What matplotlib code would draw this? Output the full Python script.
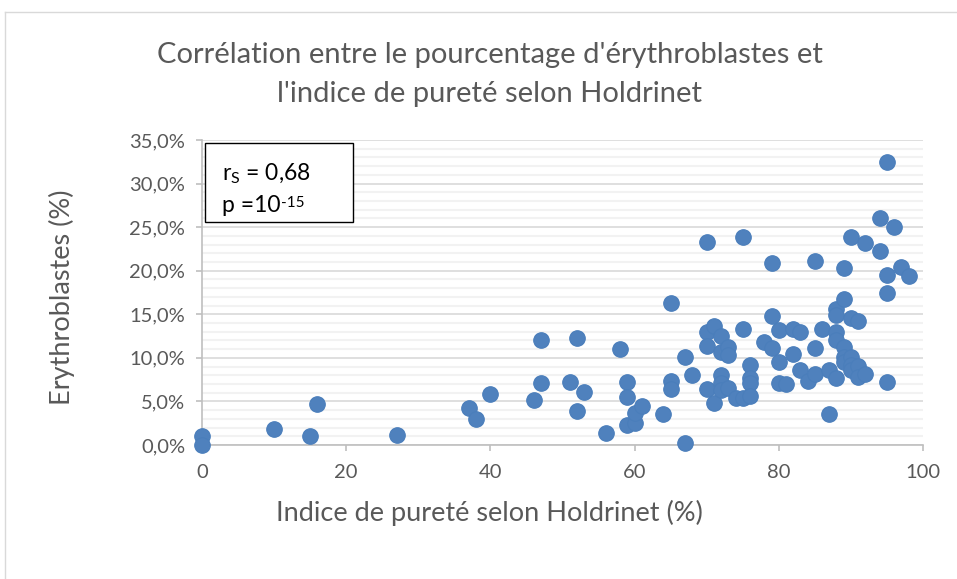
import matplotlib
matplotlib.use('Agg')
import matplotlib.pyplot as plt
from matplotlib.ticker import MultipleLocator, FuncFormatter
from matplotlib.patches import Rectangle
from matplotlib.lines import Line2D
from matplotlib.transforms import offset_copy

plt.rcParams['font.family'] = ['Lato', 'DejaVu Sans']
plt.rcParams['mathtext.fontset'] = 'custom'
plt.rcParams['mathtext.rm'] = 'Lato'

# Indice de pureté selon Holdrinet (%)
holdrinet = [0, 0, 10, 15, 16, 27, 37, 38, 40, 46, 47, 47, 51, 52, 52, 53, 56, 58,
             59, 59, 59, 60, 60, 61, 64, 65, 65, 65, 67, 67, 68, 70, 70, 70, 70, 71,
             71, 72, 72, 72, 72, 72, 73, 73, 73, 74, 75, 75, 75, 76, 76, 76, 76, 78,
             79, 79, 79, 80, 80, 80, 81, 82, 82, 83, 83, 84, 85, 85, 85, 86, 87, 87,
             88, 88, 88, 88, 88, 89, 89, 89, 89, 89, 90, 90, 90, 90, 90, 91, 91, 91,
             92, 92, 94, 94, 95, 95, 95, 95, 96, 97, 98]
# Erythroblastes (%)
erythro = [1.0, 0.0, 1.8, 1.0, 4.7, 1.1, 4.3, 3.0, 5.8, 5.2, 7.1, 12.0, 7.2, 12.3, 3.9,
           6.1, 1.4, 11.0, 7.2, 5.5, 2.3, 2.5, 3.7, 4.5, 3.6, 16.3, 7.3, 6.4, 10.1, 0.2,
           8.0, 23.3, 13.0, 11.4, 6.4, 13.7, 4.8, 12.5, 10.7, 8.0, 7.1, 6.3, 11.2, 10.3,
           6.5, 5.4, 23.9, 13.3, 5.4, 9.2, 7.7, 7.1, 5.6, 11.8, 20.9, 14.8, 11.1, 13.2,
           9.5, 7.1, 7.0, 13.3, 10.5, 13.0, 8.6, 7.3, 21.1, 11.1, 8.2, 13.3, 8.6, 3.6,
           15.6, 14.9, 13.0, 12.0, 7.7, 20.3, 16.8, 11.3, 10.1, 9.5, 23.9, 14.6, 10.1,
           9.2, 8.6, 14.2, 9.1, 7.8, 23.2, 8.2, 26.1, 22.3, 32.5, 19.5, 17.4, 7.2, 25.0,
           20.4, 19.4]

title_lines = ["Corrélation entre le pourcentage d'érythroblastes et",
               "l'indice de pureté selon Holdrinet"]
xlabel = 'Indice de pureté selon Holdrinet (%)'
ylabel = 'Erythroblastes (%)'

txt = '#595959'
fig = plt.figure(figsize=(9.57, 5.79), dpi=100)
ax = fig.add_axes([202 / 957, 1 - 445 / 579, 721 / 957, 305 / 579])

# chart area border
fig.add_artist(Line2D([5 / 957, 1], [1 - 12 / 579, 1 - 12 / 579], transform=fig.transFigure,
                      color='#D9D9D9', lw=1))
fig.add_artist(Line2D([5 / 957, 5 / 957], [0, 1 - 12 / 579], transform=fig.transFigure,
                      color='#D9D9D9', lw=1))

ax.scatter(holdrinet, erythro, s=125, color='#4F81BD', edgecolor='#4A7EBB', lw=0.8,
           zorder=3, clip_on=False)

ax.set_xlim(0, 100)
ax.set_ylim(0, 35)
ax.xaxis.set_major_locator(MultipleLocator(20))
ax.yaxis.set_major_locator(MultipleLocator(5))
ax.yaxis.set_minor_locator(MultipleLocator(1))
ax.yaxis.set_major_formatter(FuncFormatter(lambda v, p: ('%.1f%%' % v).replace('.', ',')))
ax.grid(axis='y', which='major', color='#D9D9D9', lw=1.2, zorder=1)
ax.grid(axis='y', which='minor', color='#F2F2F2', lw=1.5, zorder=0)
ax.set_axisbelow(True)
for s in ['top', 'right']:
    ax.spines[s].set_visible(False)
for s in ['left', 'bottom']:
    ax.spines[s].set_color('#BFBFBF')
    ax.spines[s].set_linewidth(1.2)
ax.tick_params(axis='both', which='major', colors='#BFBFBF', length=4, width=1.2,
               labelcolor=txt)
ax.tick_params(axis='y', which='minor', length=0)
ax.tick_params(axis='x', pad=10, labelsize=14.5)
ax.tick_params(axis='y', pad=8, labelsize=14.5)

# annotation box
ax.add_patch(Rectangle((0.004, 0.731), 0.205, 0.259, transform=ax.transAxes,
                       facecolor='white', edgecolor='black', lw=1, zorder=4))
ax.text(0.028, 0.89, r'r$_{\mathrm{S}}$ = 0,68', transform=ax.transAxes, fontsize=16.5,
        color='black', va='center', zorder=5)
p_txt = ax.text(0.028, 0.785, 'p =10', transform=ax.transAxes, fontsize=16.5,
                color='black', va='center', zorder=5)
fig.canvas.draw()
bb = p_txt.get_window_extent()
ax.text(bb.x1 / fig.dpi * 72 + 0.5, bb.y1 / fig.dpi * 72 - 6, '-15', fontsize=11,
        color='black', va='center', ha='left', zorder=5,
        transform=fig.dpi_scale_trans + matplotlib.transforms.Affine2D().scale(1 / 72))

fig.text(489.5 / 957, 1 - 55 / 579, title_lines[0], ha='center', va='center',
         fontsize=21, color=txt)
fig.text(489.5 / 957, 1 - 94 / 579, title_lines[1], ha='center', va='center',
         fontsize=21, color=txt)
fig.text(489.5 / 957, 1 - 513 / 579, xlabel, ha='center', va='center', fontsize=19.5, color=txt)
fig.text(62 / 957, 1 - 297 / 579, ylabel, ha='center', va='center', rotation=90,
         fontsize=19.5, color=txt)

fig.savefig('out.png', dpi=100, facecolor='white')
